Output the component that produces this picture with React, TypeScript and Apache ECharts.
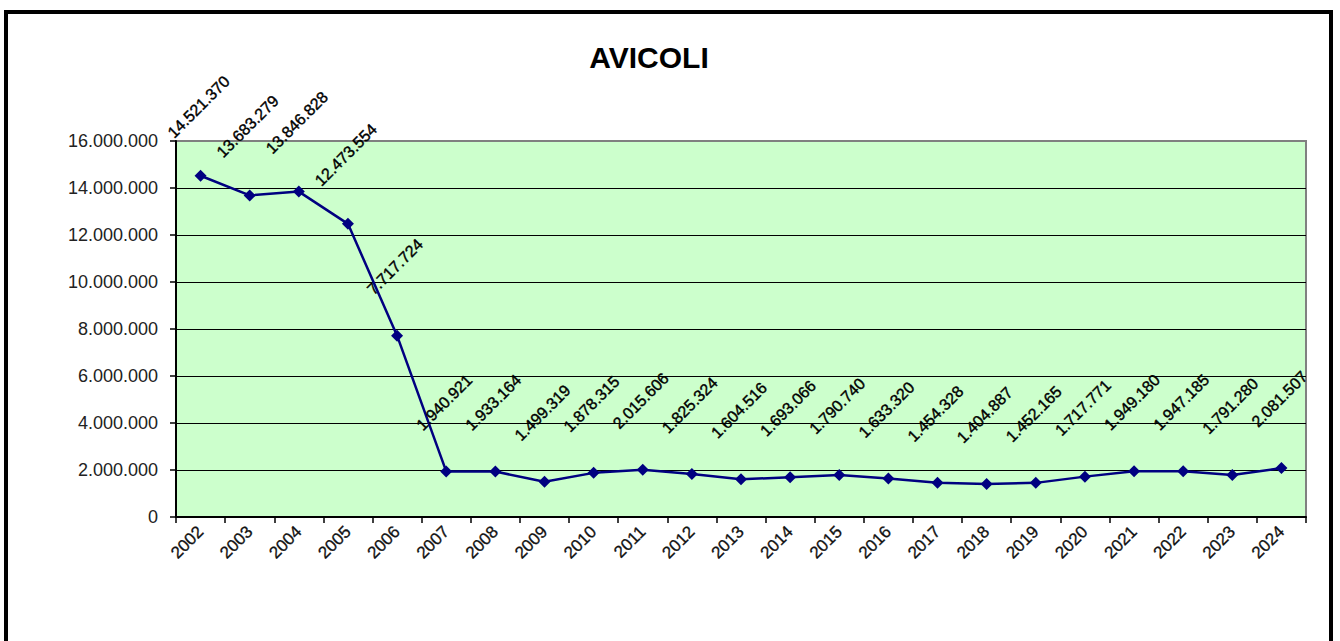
import React, { useEffect, useRef } from "react";
import * as echarts from "echarts";

const title = "AVICOLI";
const years = [
  "2002", "2003", "2004", "2005", "2006", "2007", "2008", "2009", "2010", "2011", "2012",
  "2013", "2014", "2015", "2016", "2017", "2018", "2019", "2020", "2021", "2022", "2023", "2024",
];
const values = [
  14521370, 13683279, 13846828, 12473554, 7717724, 1940921, 1933164, 1499319, 1878315,
  2015606, 1825324, 1604516, 1693066, 1790740, 1633320, 1454328, 1404887, 1452165,
  1717771, 1949180, 1947185, 1791280, 2081507,
];
const yMin = 0;
const yMax = 16000000;
const yStep = 2000000;

const fmt = (v: number) => String(Math.round(v)).replace(/\B(?=(\d{3})+(?!\d))/g, ".");

const FONT = "'Liberation Sans', Arial, sans-serif";

export default function App() {
  const ref = useRef<HTMLDivElement>(null);
  useEffect(() => {
    if (!ref.current) return;
    const chart = echarts.init(ref.current, undefined, { renderer: "svg" });
    chart.setOption({
      animation: false,
      backgroundColor: "#ffffff",
      title: {
        text: title,
        left: 644,
        top: 37,
        textAlign: "center",
        textStyle: { fontFamily: FONT, fontSize: 30, fontWeight: "bold", color: "#000" },
      },
      graphic: [
        {
          type: "rect",
          shape: { x: 6, y: 12, width: 1325, height: 700 },
          style: { fill: "none", stroke: "#000", lineWidth: 4 },
          silent: true,
          z: 100,
        },
      ],
      grid: {
        left: 176,
        right: 34,
        top: 141,
        bottom: 124,
        show: true,
        backgroundColor: "#CCFFCC",
        borderColor: "#808080",
        borderWidth: 2,
      },
      xAxis: {
        type: "category",
        data: years,
        boundaryGap: true,
        axisLine: { show: true, lineStyle: { color: "#000", width: 2 } },
        axisTick: { show: true, length: 6, lineStyle: { color: "#000", width: 1.5 } },
        axisLabel: {
          rotate: 45,
          fontFamily: FONT,
          fontSize: 17,
          color: "#111",
          margin: 12,
          interval: 0,
          textBorderColor: "#111",
          textBorderWidth: 0.3,
        },
        splitLine: { show: false },
      },
      yAxis: {
        type: "value",
        min: yMin,
        max: yMax,
        interval: yStep,
        axisLine: { show: true, lineStyle: { color: "#000", width: 2 } },
        axisTick: { show: true, length: 6, lineStyle: { color: "#000", width: 1.5 } },
        axisLabel: {
          fontFamily: FONT,
          fontSize: 18,
          color: "#222",
          margin: 18,
          formatter: (v: number) => fmt(v),
        },
        splitLine: { show: true, showMaxLine: false, lineStyle: { color: "#000", width: 1 } },
      },
      series: [
        {
          type: "line",
          data: values,
          symbol: "diamond",
          symbolSize: 12,
          itemStyle: { color: "#000080" },
          lineStyle: { color: "#000080", width: 2.5 },
          label: {
            show: true,
            rotate: 45,
            fontFamily: FONT,
            fontSize: 16,
            color: "#000",
            textBorderColor: "#000",
            textBorderWidth: 0.4,
            formatter: (p: any) => fmt(p.value),
          },
          labelLayout: (p: any) => ({
            x: p.rect.x + p.rect.width / 2 - 2,
            y: p.rect.y + p.rect.height / 2 - 69,
            align: "center",
            verticalAlign: "middle",
            rotate: 45,
          }),
        },
      ],
    });
    return () => chart.dispose();
  }, []);
  return (
    <div
      ref={ref}
      style={{ position: "fixed", left: 0, top: 0, width: 1340, height: 641 }}
    />
  );
}
